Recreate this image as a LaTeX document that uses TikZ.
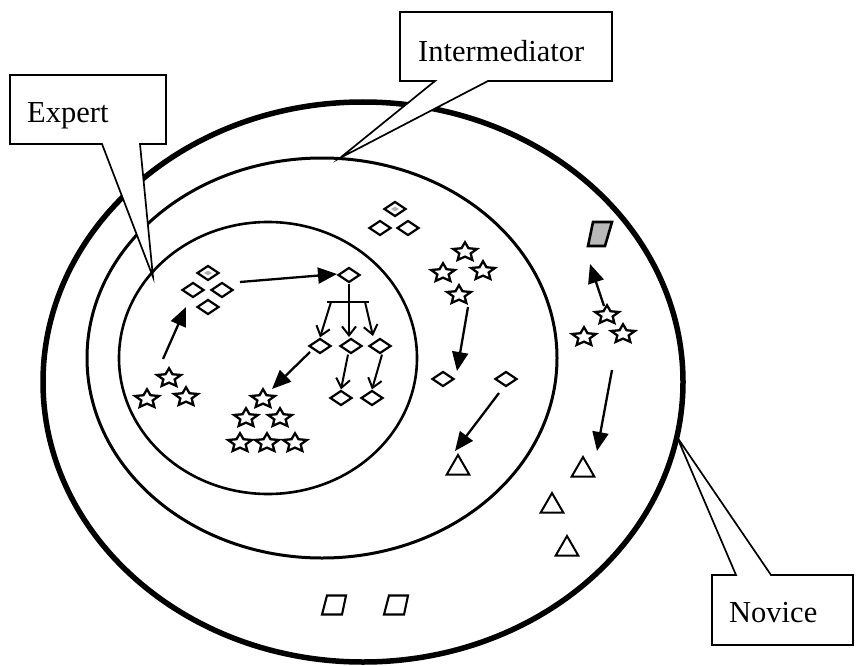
\documentclass[tikz,border=0pt]{standalone}
\usepackage{fontspec}
\setmainfont{Liberation Serif}
\usetikzlibrary{shapes.geometric,arrows.meta}
\begin{document}
\begin{tikzpicture}[x=1pt,y=-1pt,
  dia/.style={draw,shape=diamond,minimum width=22pt,minimum height=15pt,inner sep=0pt,line width=2.2pt,fill=white},
  dot/.style={shape=diamond,fill=gray!60,minimum width=8pt,minimum height=5pt,inner sep=0pt},
  starnode/.style={draw,star,star points=5,star point ratio=2.1,minimum size=25pt,inner sep=0pt,line width=2.3pt,fill=white,yscale=0.78,transform shape},
  tri/.style={draw,regular polygon,regular polygon sides=3,minimum size=26pt,inner sep=0pt,line width=2pt},
  parashape/.style={draw,line width=2.1pt,line join=miter},
  bigarrow/.style={line width=2.3pt,-{Triangle[length=19pt,width=16pt]}},
  openarrow/.style={line width=2pt,-{Straight Barb[length=9pt,width=14pt,line width=2pt]}},
  treeline/.style={line width=2pt},
  callout/.style={draw,fill=white,line width=1.7pt,line join=miter},
  lbl/.style={font=\fontsize{30.5}{36}\selectfont,anchor=base west,inner sep=0pt}
]
\useasboundingbox (0,0) rectangle (856,666);
% regions
\draw[line width=5.5pt] (363,382) ellipse [x radius=320pt, y radius=280pt];
\draw[line width=3pt] (322,358) ellipse [x radius=235pt, y radius=200pt];
\draw[line width=2.6pt] (268,358) ellipse [x radius=149pt, y radius=136pt];
% callouts
\draw[callout] (10,75) -- (166,75) -- (166,144) -- (140,144) -- (153,277) -- (102,144) -- (10,144) -- cycle;
\node[lbl] (expert) at (27,122) {Expert};
\draw[callout] (400,12) -- (612,12) -- (612,81) -- (488,81) -- (340,158) -- (435,81) -- (400,81) -- cycle;
\node[lbl] (inter) at (418,62) {Intermediator};
\draw[callout] (712,575) -- (736,575) -- (677,437) -- (771,575) -- (853,575) -- (853,645) -- (712,645) -- cycle;
\node[lbl] (novice) at (729,622) {Novice};
% ---- expert region
\node[dia] (e1) at (208,273) {};
\node[dot] (e1p) at (208,273) {};
\node[dia] (e2) at (193,290) {};
\node[dia] (e3) at (222,290) {};
\node[dia] (e4) at (208,307) {};
\node[starnode] (sa1) at (169,378) {};
\node[starnode] (sa2) at (147,399) {};
\node[starnode] (sa3) at (186,397) {};
\coordinate (a1s) at (163,359);
\coordinate (a1e) at (186,307);
\draw[bigarrow] (a1s) -- (a1e);
\node[dia] (t0) at (349,275) {};
\coordinate (a2s) at (240,282);
\coordinate (a2e) at (337,274);
\draw[bigarrow] (a2s) -- (a2e);
\coordinate (bar) at (349,302);
\coordinate (barL) at (327,302);
\coordinate (barR) at (369,302);
\coordinate (barA) at (331,302);
\coordinate (barC) at (365,302);
\coordinate (midend) at (349,337);
\draw[treeline] (t0.south) -- (bar);
\draw[treeline] (barL) -- (barR);
\node[dia] (t1) at (320,346) {};
\node[dia] (t2) at (351,346) {};
\node[dia] (t3) at (380,346) {};
\node[dia] (t4) at (341,398) {};
\node[dia] (t5) at (372,398) {};
\coordinate (t3in) at (373,336);
\draw[openarrow] (barA) -- (t1.north);
\draw[openarrow] (bar) -- (midend);
\draw[openarrow] (barC) -- (t3in);
\draw[openarrow] ([xshift=-3pt]t2.south) -- (t4.north);
\draw[openarrow] ([xshift=2pt]t3.south) -- (t5.north);
\node[starnode] (sb1) at (263,399) {};
\node[starnode] (sb2) at (246,418) {};
\node[starnode] (sb3) at (280,418) {};
\node[starnode] (sb4) at (240,443) {};
\node[starnode] (sb5) at (267,443) {};
\node[starnode] (sb6) at (295,443) {};
\coordinate (a4s) at (310,352);
\coordinate (a4e) at (272,389);
\draw[bigarrow] (a4s) -- (a4e);
% ---- intermediate region
\node[dia] (i1) at (395,209) {};
\node[dot] (i1p) at (395,209) {};
\node[dia] (i2) at (380,228) {};
\node[dia] (i3) at (408,228) {};
\node[starnode] (si1) at (465,252) {};
\node[starnode] (si2) at (443,273) {};
\node[starnode] (si3) at (483,271) {};
\node[starnode] (si4) at (459,295) {};
\node[dia] (id1) at (443,379) {};
\node[dia] (id2) at (506,379) {};
\node[tri] (it1) at (458,468) {};
\coordinate (a5s) at (468,307);
\coordinate (a5e) at (457,371);
\draw[bigarrow] (a5s) -- (a5e);
\coordinate (a6s) at (499,393);
\coordinate (a6e) at (455,451);
\draw[bigarrow] (a6s) -- (a6e);
% ---- novice region
\coordinate (np) at (600,234);
\draw[parashape,fill=gray!55,line width=2.6pt,shift={(np)}] (-12,12) -- (-7,-12) -- (12,-12) -- (5,12) -- cycle;
\node[starnode] (sn1) at (607,315) {};
\node[starnode] (sn2) at (584,337) {};
\node[starnode] (sn3) at (623,334) {};
\coordinate (a7s) at (604,306);
\coordinate (a7e) at (590,264);
\draw[bigarrow] (a7s) -- (a7e);
\coordinate (a8s) at (612,370);
\coordinate (a8e) at (597,451);
\draw[bigarrow] (a8s) -- (a8e);
\node[tri] (nt1) at (583,470) {};
\node[tri] (nt2) at (552,506) {};
\node[tri] (nt3) at (567,549) {};
\coordinate (nb1) at (334,605);
\coordinate (nb2) at (396,605);
\draw[parashape,shift={(nb1)}] (-12,9.5) -- (-7,-9.5) -- (12,-9.5) -- (8,9.5) -- cycle;
\draw[parashape,shift={(nb2)}] (-12,9.5) -- (-7,-9.5) -- (12,-9.5) -- (8,9.5) -- cycle;
\end{tikzpicture}
\end{document}
